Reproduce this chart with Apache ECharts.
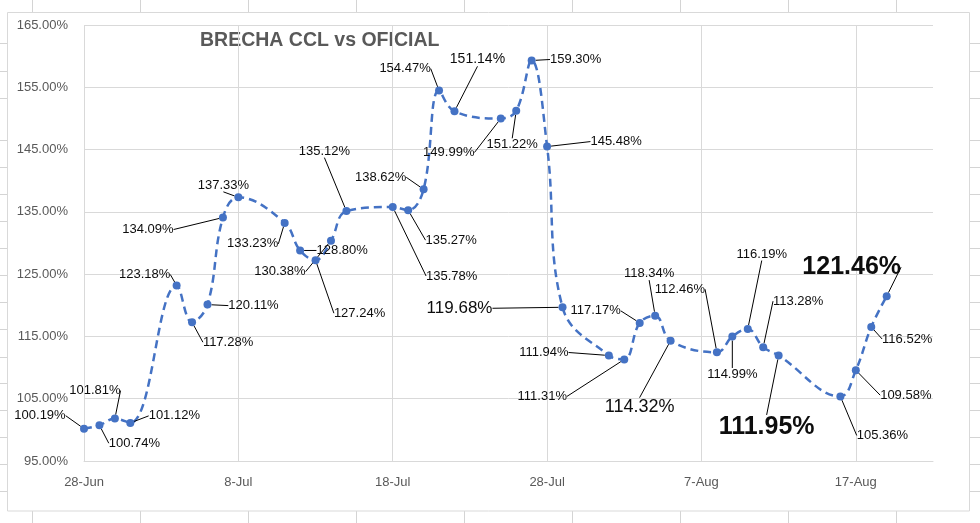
<!DOCTYPE html>
<html>
<head>
<meta charset="utf-8">
<script src="https://cdn.jsdelivr.net/npm/echarts@6/dist/echarts.min.js"></script>
<style>
html,body{margin:0;padding:0;background:#fff;}
#chart{width:980px;height:523px;}
</style>
</head>
<body>
<div id="chart"></div>
<script>
// ---- data ----
const startDate = '2022-06-28';
const dates = [
  '2022-06-28','2022-06-29','2022-06-30','2022-07-01',
  '2022-07-04','2022-07-05','2022-07-06','2022-07-07','2022-07-08',
  '2022-07-11','2022-07-12','2022-07-13','2022-07-14','2022-07-15',
  '2022-07-18','2022-07-19','2022-07-20','2022-07-21','2022-07-22',
  '2022-07-25','2022-07-26','2022-07-27','2022-07-28','2022-07-29',
  '2022-08-01','2022-08-02','2022-08-03','2022-08-04','2022-08-05',
  '2022-08-08','2022-08-09','2022-08-10','2022-08-11','2022-08-12',
  '2022-08-16','2022-08-17','2022-08-18','2022-08-19'
];
const brecha = [
  100.19,100.74,101.81,101.12,
  123.18,117.28,120.11,134.09,137.33,
  133.23,128.80,127.24,130.38,135.12,
  135.78,135.27,138.62,154.47,151.14,
  149.99,151.22,159.30,145.48,119.68,
  111.94,111.31,117.17,118.34,114.32,
  112.46,114.99,116.19,113.28,111.95,
  105.36,109.58,116.52,121.46
];
const yTicks = [95,105,115,125,135,145,155,165];
const xTickLabels = ['28-Jun','8-Jul','18-Jul','28-Jul','7-Aug','17-Aug'];
const axisEndDate = '2022-08-22';

// ---- layout / style (not data) ----
// label offset from its point, in px [dx, dy]
const labelOffsets = [
  [-44,-13],[35,18],[-20,-28],[44,-7],
  [-32,-11],[36,20],[46,1],[-75,12],[-15,-12],
  [-32,21],[42,0],[44,53],[-51,31],[-22,-60],
  [59,69],[43,30],[-43,-12],[-34,-22],[23,-52],
  [-52,34],[-4,34],[44,-1],[69,-5],[-103,1],
  [-65,-3],[-82,37],[-44,-12],[-6,-42],[-31,66],
  [-37,-63],[0,38],[14,-75],[35,-46],[-12,72],
  [42,39],[50,25],[36,12],[-35,-29]
];
// special label styles by index
const labelStyles = {
  18: {fontSize: 14},
  23: {fontSize: 17},
  28: {fontSize: 18},
  33: {fontSize: 25, fontWeight: 'bold'},
  37: {fontSize: 25, fontWeight: 'bold'}
};

const DAY = 86400000;
const t0 = Date.parse(startDate);
const dayOf = d => Math.round((Date.parse(d) - t0) / DAY);
const months = ['Jan','Feb','Mar','Apr','May','Jun','Jul','Aug','Sep','Oct','Nov','Dec'];
const fmtDay = v => { const d = new Date(t0 + v * DAY); return d.getUTCDate() + '-' + months[d.getUTCMonth()]; };
const xMax = dayOf(axisEndDate);
const xTickValues = xTickLabels.map((_, i) => i * 10);

const seriesData = dates.map((d, i) => {
  const item = { value: [dayOf(d), brecha[i]] };
  if (labelStyles[i]) item.label = Object.assign({}, labelStyles[i]);
  return item;
});

// spreadsheet cell borders around the chart object (decoration)
const cellXs = [32,140,248,356,464,572,680,788,896];
const cellYs = [43,71,98,140,167,194,221,248,275,302,329,357,383,410,437,464,491];
const deco = [];
cellXs.forEach(x => {
  deco.push({type:'line', shape:{x1:x+0.5,y1:0,x2:x+0.5,y2:12}, style:{stroke:'#D4D4D4',lineWidth:1}, silent:true});
  deco.push({type:'line', shape:{x1:x+0.5,y1:511,x2:x+0.5,y2:523}, style:{stroke:'#D4D4D4',lineWidth:1}, silent:true});
});
cellYs.forEach(y => {
  deco.push({type:'line', shape:{x1:0,y1:y+0.5,x2:7,y2:y+0.5}, style:{stroke:'#D4D4D4',lineWidth:1}, silent:true});
  deco.push({type:'line', shape:{x1:969,y1:y+0.5,x2:980,y2:y+0.5}, style:{stroke:'#D4D4D4',lineWidth:1}, silent:true});
});
deco.push({type:'rect', shape:{x:7.5,y:12.5,width:962,height:498.5}, style:{fill:'none',stroke:'#D9D9D9',lineWidth:1}, silent:true});
deco.push({type:'text', left:200, top:31, style:{text:'BRECHA CCL vs OFICIAL', fill:'#595959', font:'bold 19.5px "Liberation Sans", Arial, sans-serif'}, silent:true});

const chart = echarts.init(document.getElementById('chart'), null, {renderer:'canvas'});
chart.setOption({
  animation: false,
  backgroundColor: '#fff',
  textStyle: {fontFamily: '"Liberation Sans", Arial, sans-serif'},
  graphic: deco,
  grid: {left: 84, right: 47, top: 25, bottom: 62, containLabel: false},
  xAxis: {
    type: 'value',
    min: 0, max: xMax, interval: 10,
    axisLine: {show: true, lineStyle: {color: '#D9D9D9', width: 1}},
    axisTick: {show: false, customValues: xTickValues},
    axisLabel: {color: '#595959', fontSize: 13, margin: 15, customValues: xTickValues,
      formatter: v => xTickLabels[Math.round(v / 10)] || fmtDay(v)},
    splitLine: {show: true, lineStyle: {color: '#D9D9D9', width: 1}}
  },
  yAxis: {
    type: 'value',
    min: yTicks[0], max: yTicks[yTicks.length - 1], interval: 10,
    axisLine: {show: false},
    axisTick: {show: false},
    axisLabel: {color: '#595959', fontSize: 13, margin: 16, formatter: v => v.toFixed(2) + '%'},
    splitLine: {show: true, lineStyle: {color: '#D9D9D9', width: 1}}
  },
  series: [{
    type: 'line',
    data: seriesData,
    smooth: 0.4,
    symbol: 'circle',
    symbolSize: 8,
    itemStyle: {color: '#4472C4'},
    lineStyle: {color: '#4472C4', width: 2.5, type: [8, 5]},
    label: {
      show: true,
      position: 'inside',
      color: '#0d0d0d',
      fontSize: 13,
      formatter: p => p.value[1].toFixed(2) + '%'
    },
    labelLine: {show: true, lineStyle: {color: '#000', width: 1}},
    labelLayout: p => {
      const o = labelOffsets[p.dataIndex];
      return {
        x: p.rect.x + p.rect.width / 2 + o[0],
        y: p.rect.y + p.rect.height / 2 + o[1],
        align: 'center', verticalAlign: 'middle'
      };
    },
    z: 3
  }]
});
</script>
</body>
</html>
